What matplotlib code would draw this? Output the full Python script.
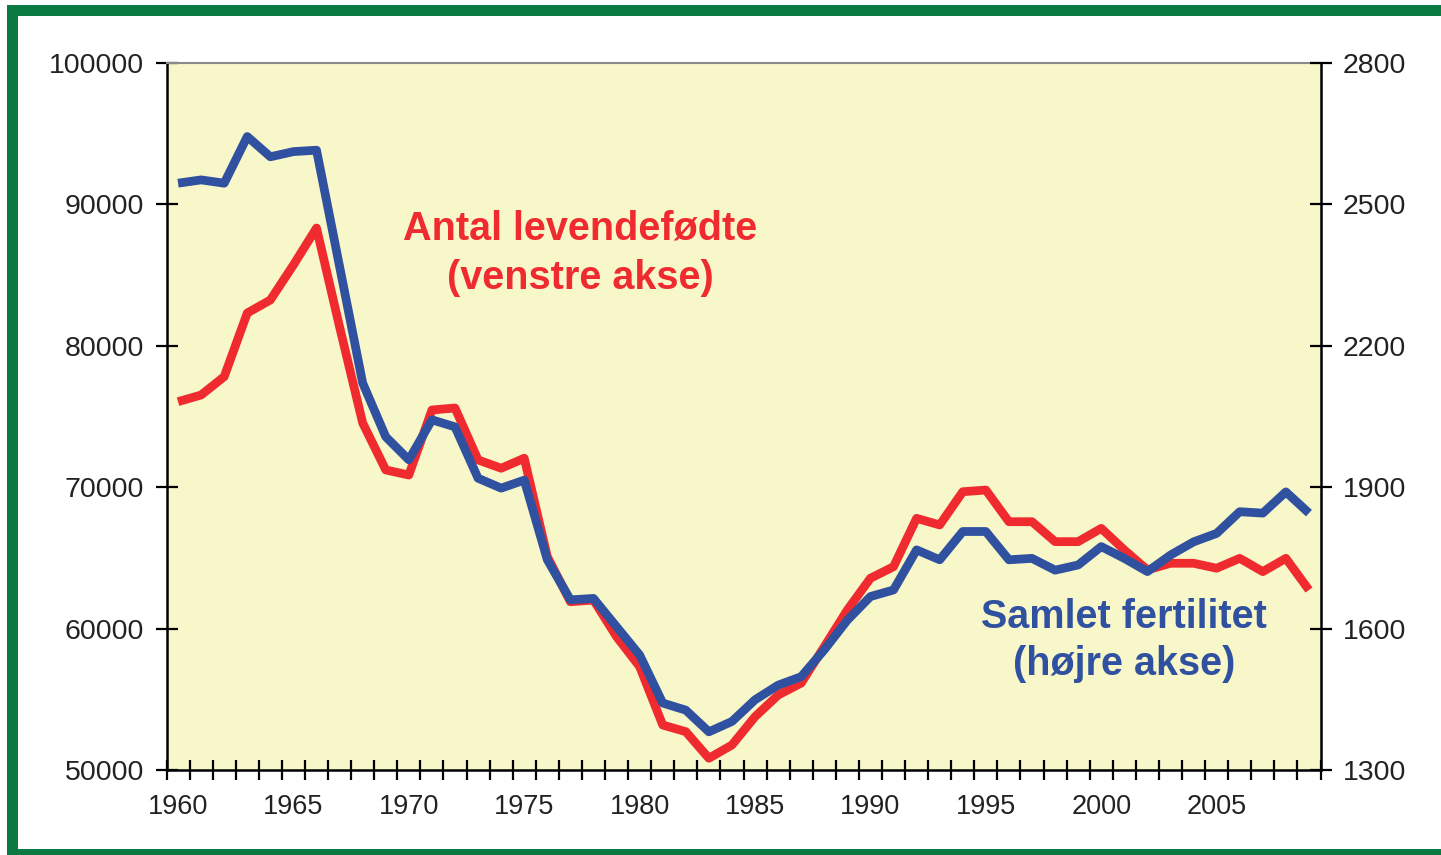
import matplotlib
matplotlib.use('Agg')
import matplotlib.pyplot as plt
from matplotlib.patches import Rectangle
from matplotlib.ticker import FixedLocator

years = list(range(1960, 2010))
births = [76050, 76520, 77820, 82320, 83240, 85720, 88330, 81330, 74540, 71220,
          70860, 75460, 75600, 71930, 71340, 72050, 65090, 61900, 62020, 59430,
          57310, 53180, 52710, 50830, 51770, 53770, 55300, 56150, 58720, 61320,
          63560, 64380, 67800, 67330, 69680, 69800, 67560, 67560, 66150, 66150,
          67090, 65560, 64150, 64620, 64620, 64270, 64970, 64030, 64970, 62730]
fertility = [2545, 2552, 2545, 2644, 2601, 2612, 2615, 2368, 2121, 2007,
             1958, 2043, 2028, 1919, 1898, 1915, 1746, 1661, 1664, 1604,
             1544, 1442, 1427, 1381, 1403, 1449, 1480, 1498, 1555, 1618,
             1668, 1682, 1767, 1746, 1806, 1806, 1746, 1749, 1724, 1735,
             1774, 1749, 1721, 1756, 1784, 1802, 1848, 1845, 1890, 1845]
label_years = [1960, 1965, 1970, 1975, 1980, 1985, 1990, 1995, 2000, 2005]
left_ticks = [50000, 60000, 70000, 80000, 90000, 100000]
right_ticks = [1300, 1600, 1900, 2200, 2500, 2800]

RED = '#EF2B2F'
BLUE = '#2F51A0'
BG = '#F8F7C9'
GREEN = '#0B7A42'
TXT = '#222222'
FONT = 'Liberation Sans'

plt.rcParams['font.family'] = [FONT, 'DejaVu Sans']

fig = plt.figure(figsize=(14.41, 8.55), dpi=100)
fig.patch.set_facecolor('white')
ax = fig.add_axes([166.5/1441, 85/855, 1154/1441, 707/855])
ax.set_facecolor(BG)
ax2 = ax.twinx()

ax.plot(years, births, color=RED, lw=6.3, solid_joinstyle='round', solid_capstyle='butt', zorder=3)
ax2.plot(years, fertility, color=BLUE, lw=6.3, solid_joinstyle='round', solid_capstyle='butt', zorder=3)

ax.set_xlim(years[0] - 0.5, years[-1] + 0.5)
ax.set_ylim(left_ticks[0], left_ticks[-1])
ax2.set_ylim(right_ticks[0], right_ticks[-1])

# x axis: labels at category centres, tick marks between categories
ax.xaxis.set_major_locator(FixedLocator(label_years))
ax.xaxis.set_minor_locator(FixedLocator([years[0] - 0.5 + k for k in range(len(years) + 1)]))
ax.tick_params(axis='x', which='major', length=0, pad=17, labelsize=19.5, labelcolor=TXT)
ax.tick_params(axis='x', which='minor', direction='inout', length=14.5, width=1.6, color='black')

ax.yaxis.set_major_locator(FixedLocator(left_ticks))
ax.yaxis.set_major_formatter(matplotlib.ticker.FuncFormatter(lambda v, p: f"{int(v)}"))
ax.tick_params(axis='y', which='major', direction='inout', length=16.5, width=1.6,
               color='black', pad=8, labelsize=20.5, labelcolor=TXT)

ax2.yaxis.set_major_locator(FixedLocator(right_ticks))
ax2.tick_params(axis='y', which='major', direction='inout', length=16.5, width=1.6,
                color='black', pad=8, labelsize=20.5, labelcolor=TXT)

for s in ['left', 'bottom']:
    ax.spines[s].set_color('black')
    ax.spines[s].set_linewidth(1.8)
ax.spines['top'].set_color('#8a8a8a')
ax.spines['top'].set_linewidth(1.5)
ax.spines['right'].set_visible(False)
for s in ['left', 'bottom', 'top']:
    ax2.spines[s].set_visible(False)
ax2.spines['right'].set_color('black')
ax2.spines['right'].set_linewidth(1.8)

ax.text(1977.44, 86560, "Antal levendefødte\n(venstre akse)", ha='center', va='center',
        color=RED, fontsize=28.5, fontweight='bold', linespacing=1.38, zorder=5)
ax.text(2001.0, 59160, "Samlet fertilitet\n(højre akse)", ha='center', va='center',
        color=BLUE, fontsize=28.5, fontweight='bold', linespacing=1.3, zorder=5)

# green frame
W, H = 1441.0, 855.0
fig.add_artist(Rectangle((7/W, 0), 11/W, (H - 5)/H, transform=fig.transFigure,
                         facecolor=GREEN, edgecolor='none'))
fig.add_artist(Rectangle((7/W, (H - 16)/H), 1 - 7/W, 11/H, transform=fig.transFigure,
                         facecolor=GREEN, edgecolor='none'))
fig.add_artist(Rectangle((7/W, 0), 1 - 7/W, 6/H, transform=fig.transFigure,
                         facecolor=GREEN, edgecolor='none'))

fig.savefig('out.png', dpi=100, facecolor='white')
